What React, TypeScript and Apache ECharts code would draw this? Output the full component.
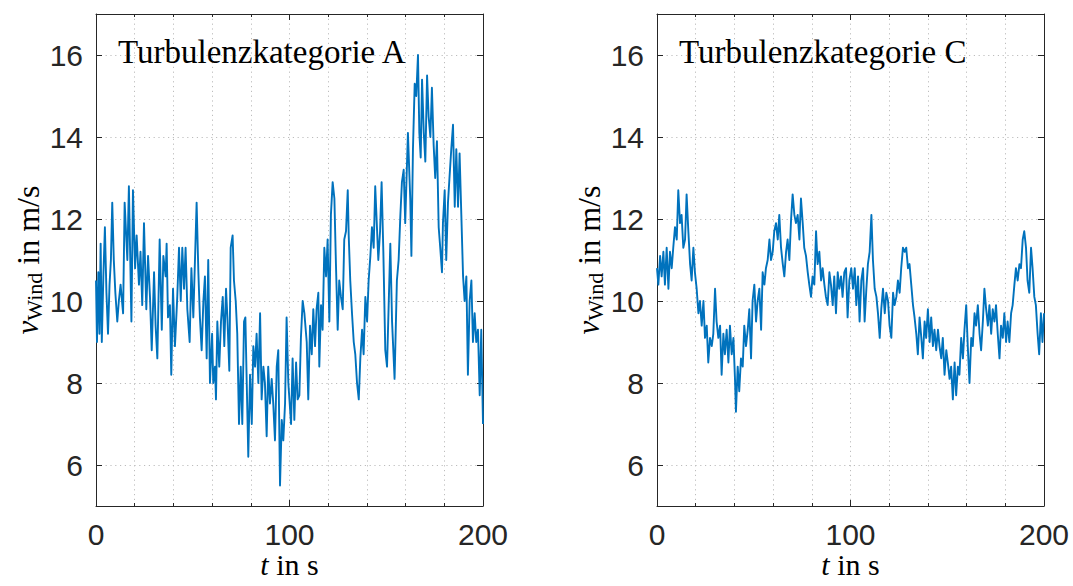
import React, { useEffect, useRef } from "react";
import * as echarts from "echarts";

// Turbulenzkategorie A: [t in s, v_Wind in m/s]
const samplesA: [number, number][] = [
  [0,10.5],[0.5,9.0],[1.2,10.7],[1.8,9.2],[2.4,11.4],[3.0,9.0],[3.8,10.6],[4.6,11.8],[5.4,10.2],[6.2,9.2],
  [7.0,10.4],[7.7,11.0],[8.4,12.4],[9.2,11.0],[10.0,10.2],[11.0,9.5],[11.8,10.0],[12.7,10.4],[14.0,9.7],[14.8,12.4],
  [16.2,11.0],[17.0,12.8],[18.3,9.5],[19.1,12.7],[20.2,10.8],[21.0,11.6],[22.2,10.4],[23.0,11.2],[23.9,9.9],[24.8,11.9],
  [26.0,9.8],[26.9,11.1],[27.9,10.1],[28.8,8.8],[30.0,10.7],[30.8,9.4],[31.7,8.6],[32.9,11.5],[34.0,9.3],[34.8,11.1],
  [36.0,10.6],[36.5,11.4],[37.2,9.6],[38.2,9.9],[38.9,8.2],[39.8,10.3],[40.8,8.9],[42.0,10.1],[42.9,11.3],[43.8,10.0],
  [44.6,11.3],[45.5,10.3],[46.3,11.3],[47.2,9.8],[48.4,9.0],[49.3,10.8],[50.3,9.6],[52.0,12.4],[52.9,10.7],[53.7,9.6],
  [54.6,8.8],[55.5,10.0],[56.3,10.6],[57.2,8.6],[58.0,11.0],[58.9,8.0],[60.0,9.2],[60.6,8.0],[61.5,8.4],[62.0,7.6],
  [62.7,9.5],[63.7,8.4],[64.6,9.5],[65.5,10.1],[66.3,8.9],[67.2,10.3],[67.9,9.6],[68.9,8.3],[69.6,11.3],[70.6,11.6],
  [71.3,10.5],[72.2,10.0],[73.0,9.2],[73.9,7.0],[74.8,8.4],[75.6,7.0],[76.5,9.5],[77.2,9.6],[77.9,8.0],[78.7,6.2],
  [79.6,8.2],[80.5,7.0],[81.3,8.9],[82.2,8.4],[83.0,9.2],[83.9,8.0],[84.8,9.7],[85.6,7.6],[86.5,8.4],[87.3,8.0],
  [88.2,6.7],[89.0,8.4],[89.9,7.5],[90.8,8.1],[91.6,7.5],[92.5,6.6],[93.4,8.4],[94.2,8.8],[95.1,5.5],[96.0,7.1],
  [96.8,6.6],[97.7,7.5],[98.5,9.6],[99.4,8.0],[100.8,7.0],[101.6,8.6],[102.5,7.1],[103.4,8.5],[104.2,7.6],[105.1,7.7],
  [105.9,9.1],[106.8,10.0],[107.7,9.7],[108.9,9.0],[109.7,7.6],[110.6,9.4],[111.5,8.7],[112.3,9.8],[113.2,8.9],[114.0,9.8],
  [114.9,10.2],[115.4,8.4],[116.3,9.9],[117.1,9.3],[118.0,11.3],[118.9,10.6],[119.7,11.5],[120.6,9.5],[121.4,12.1],[122.3,12.9],
  [123.2,12.5],[124.0,10.9],[124.9,9.3],[125.7,10.5],[126.6,10.1],[127.5,9.8],[128.3,11.5],[129.2,11.7],[130.1,12.7],[130.6,11.6],
  [131.4,10.5],[132.3,9.7],[133.2,9.0],[134.0,8.7],[134.9,8.0],[135.8,7.6],[136.6,8.6],[137.5,9.3],[138.3,8.7],[139.2,10.1],
  [140.1,9.5],[140.9,10.5],[141.8,11.1],[142.6,11.8],[143.5,11.3],[144.3,12.8],[145.1,11.9],[145.9,11.0],[146.8,11.7],[147.6,12.9],
  [148.5,11.2],[149.5,8.8],[150.4,8.4],[152.1,11.4],[153.0,9.5],[154.3,8.1],[155.5,10.5],[156.4,11.0],[157.3,12.1],[158.1,12.9],
  [159.0,13.2],[159.8,11.9],[161.2,14.1],[162.4,12.5],[163.0,11.1],[163.8,13.7],[164.7,15.3],[165.5,15.0],[166.4,16.0],[167.1,14.1],
  [167.8,13.5],[168.5,15.4],[169.4,14.1],[170.2,13.4],[171.1,15.5],[171.9,14.5],[172.8,14.0],[173.6,15.2],[174.5,13.8],[175.3,13.0],
  [176.2,13.9],[177.1,11.8],[177.9,11.3],[178.8,10.7],[179.3,11.9],[180.2,12.7],[181.0,11.0],[181.9,12.4],[182.8,13.1],[183.6,13.7],
  [184.5,14.3],[185.4,12.3],[186.2,13.7],[187.1,12.3],[187.9,13.6],[188.8,12.1],[189.7,10.6],[190.5,10.0],[191.4,10.6],[192.2,8.2],
  [193.1,10.0],[194.0,10.5],[194.8,9.0],[195.7,9.7],[196.5,9.0],[197.4,9.3],[198.3,7.7],[199.1,9.3],[200.0,7.0],
];

// Turbulenzkategorie C: [t in s, v_Wind in m/s]
const samplesC: [number, number][] = [
  [0,10.8],[0.7,10.4],[1.6,11.1],[2.4,10.6],[3.3,11.2],[4.1,10.4],[5.0,11.3],[5.9,10.3],[6.7,11.2],[7.6,10.8],
  [8.4,11.3],[9.3,11.8],[10.2,11.5],[11.0,12.7],[11.9,11.9],[12.7,12.1],[13.6,11.3],[14.5,11.5],[15.3,12.6],[16.2,11.7],
  [17.1,10.9],[17.9,10.5],[18.8,11.3],[19.6,10.7],[20.5,10.3],[21.4,9.7],[22.2,10.0],[23.1,9.4],[24.0,10.0],[24.8,9.1],
  [25.7,9.4],[26.5,8.5],[27.4,9.1],[28.3,8.9],[29.1,9.2],[30.0,10.3],[30.8,9.5],[31.7,9.1],[32.6,9.4],[33.4,8.2],
  [34.3,9.2],[35.1,8.7],[36.0,9.3],[36.9,8.5],[37.7,9.4],[38.6,8.7],[39.5,9.1],[40.3,8.1],[40.8,7.3],[41.7,8.4],
  [42.5,7.8],[43.4,8.6],[44.3,8.4],[45.1,9.4],[46.0,8.9],[46.9,9.3],[47.7,9.8],[48.6,8.6],[49.4,10.0],[50.3,10.4],
  [51.2,9.5],[52.0,10.0],[52.9,10.3],[53.8,9.3],[54.6,10.7],[55.5,10.4],[56.3,10.8],[57.2,11.0],[58.1,11.5],[58.9,11.0],
  [59.8,11.2],[60.6,11.7],[61.5,11.9],[62.4,11.5],[63.2,12.1],[64.1,11.3],[65.0,10.9],[65.8,10.6],[66.7,11.2],[67.5,11.5],
  [68.4,11.0],[69.3,12.0],[70.1,12.6],[71.0,12.1],[71.8,11.9],[72.7,12.1],[73.6,11.5],[74.4,12.5],[75.3,11.9],[76.1,11.3],
  [77.0,11.1],[77.9,10.7],[78.7,10.4],[79.6,10.1],[80.4,10.6],[81.3,10.4],[82.2,11.7],[83.0,10.9],[83.9,11.2],[84.8,10.5],
  [85.6,10.8],[86.5,10.4],[87.3,10.1],[88.2,9.9],[89.1,10.7],[89.9,10.4],[90.8,9.9],[91.6,10.6],[92.5,9.7],[93.4,10.7],
  [94.2,10.3],[95.1,10.6],[95.9,10.1],[96.8,10.7],[97.7,10.8],[98.5,9.6],[99.4,10.5],[100.4,10.8],[101.3,10.3],[102.2,10.8],
  [103.0,9.9],[103.9,10.6],[104.7,9.5],[105.6,10.5],[106.5,10.8],[107.3,9.5],[108.2,10.3],[109.0,10.9],[109.9,11.2],[110.8,12.1],
  [111.6,11.0],[112.5,10.3],[113.4,10.1],[114.2,9.7],[115.1,9.1],[115.9,9.8],[116.8,10.3],[117.7,9.7],[118.5,10.2],[119.4,10.0],
  [120.2,9.4],[121.1,9.1],[122.0,10.2],[122.8,9.9],[123.7,10.1],[124.5,10.5],[125.4,10.2],[126.2,10.8],[127.1,11.3],[128.0,11.2],
  [128.8,11.3],[129.7,10.8],[130.5,10.9],[131.4,10.4],[132.3,9.9],[133.1,9.6],[134.0,9.2],[134.8,8.7],[135.7,9.6],[136.6,9.1],
  [137.4,8.6],[138.3,9.5],[139.1,9.1],[140.0,9.8],[140.9,9.0],[141.7,9.6],[142.6,8.9],[143.4,9.3],[144.3,8.8],[145.2,9.3],
  [146.0,8.9],[146.9,8.6],[147.7,9.1],[148.6,8.2],[149.5,8.8],[150.3,8.5],[151.2,8.1],[152.0,8.4],[152.9,7.6],[153.8,8.5],
  [154.6,7.7],[155.5,8.4],[156.3,8.2],[157.2,9.1],[158.1,8.6],[158.9,9.3],[159.8,9.9],[160.6,8.9],[161.5,8.0],[162.4,9.1],
  [163.2,8.9],[164.1,9.7],[164.9,9.4],[165.8,9.9],[166.7,9.2],[167.5,8.8],[168.4,9.5],[169.2,10.3],[170.1,9.8],[171.0,9.4],
  [171.8,9.9],[172.7,9.2],[173.5,9.8],[174.4,9.5],[175.2,9.9],[176.1,9.2],[177.0,8.6],[177.8,9.4],[178.7,9.1],[179.5,9.7],
  [180.4,9.0],[181.2,9.5],[182.1,9.0],[183.0,9.7],[183.8,9.9],[184.7,10.4],[185.5,10.8],[186.4,10.5],[187.3,10.9],[188.1,10.8],
  [189.0,11.5],[189.8,11.7],[190.7,11.3],[191.5,10.5],[192.4,10.2],[193.3,11.3],[194.1,10.8],[195.0,10.1],[195.8,9.9],[196.7,9.2],
  [197.5,8.7],[198.4,9.7],[199.2,9.0],[200.0,9.7],
];

const panelTitles = ["Turbulenzkategorie A", "Turbulenzkategorie C"];
const xTickLabels = [0, 100, 200];
const yTickLabels = [6, 8, 10, 12, 14, 16];
const X_MIN = 0, X_MAX = 200;
const Y_MIN = 5, Y_MAX = 17;

const AX = "#262626";
const GRIDC = "#bdbdbd";
const LINE = "#0072BD";
const SERIF = "'Liberation Serif', 'Times New Roman', serif";
const SANS = "'Liberation Sans', Arial, Helvetica, sans-serif";

const grids = [
  { left: 96, top: 14, width: 387, height: 492 },
  { left: 657, top: 14, width: 387, height: 492 },
];

function buildOption() {
  const xAxis: any[] = [];
  const yAxis: any[] = [];
  const dotted = { color: GRIDC, width: 1, type: [1.2, 3.6] };
  grids.forEach((_, gi) => {
    xAxis.push({
      type: "value", gridIndex: gi, position: "bottom", min: X_MIN, max: X_MAX, interval: 100,
      axisLine: { show: true, onZero: false, lineStyle: { color: AX, width: 1 } },
      axisTick: { show: true, inside: true, length: 6, lineStyle: { color: AX } },
      minorTick: { show: true, splitNumber: 5, length: 3, lineStyle: { color: AX } },
      axisLabel: { show: true, margin: 16, color: AX, fontFamily: SANS, fontSize: 30, lineHeight: 24, customValues: xTickLabels },
      splitLine: { show: true, lineStyle: dotted },
      minorSplitLine: { show: true, lineStyle: dotted },
      name: "{t|t}{n| in s}", nameLocation: "middle", nameGap: 43, nameMoveOverlap: false,
      nameTextStyle: {
        color: "#000", fontFamily: SERIF, fontSize: 30, lineHeight: 30,
        rich: {
          t: { fontFamily: SERIF, fontSize: 30, fontStyle: "italic", color: "#000", lineHeight: 30 },
          n: { fontFamily: SERIF, fontSize: 30, color: "#000", lineHeight: 30 },
        },
      },
    });
    xAxis.push({
      type: "value", gridIndex: gi, position: "top", min: X_MIN, max: X_MAX, interval: 100,
      axisLine: { show: true, onZero: false, lineStyle: { color: AX, width: 1 } },
      axisTick: { show: true, inside: true, length: 6, lineStyle: { color: AX } },
      minorTick: { show: true, splitNumber: 5, length: 3, lineStyle: { color: AX } },
      axisLabel: { show: false },
      splitLine: { show: false },
    });
    yAxis.push({
      type: "value", gridIndex: gi, position: "left", min: Y_MIN, max: Y_MAX, interval: 1,
      axisLine: { show: true, onZero: false, lineStyle: { color: AX, width: 1 } },
      axisTick: { show: true, inside: true, length: 6, lineStyle: { color: AX }, customValues: yTickLabels },
      axisLabel: { show: true, margin: 13, color: AX, fontFamily: SANS, fontSize: 30, customValues: yTickLabels },
      splitLine: { show: true, lineStyle: dotted },
      name: "{v|v}{s|Wind}{n| in m/s}", nameLocation: "middle", nameGap: 46, nameRotate: 90,
      nameTextStyle: {
        color: "#000", fontFamily: SERIF, fontSize: 32,
        rich: {
          v: { fontFamily: SERIF, fontSize: 31, fontStyle: "italic", color: "#000", lineHeight: 36, verticalAlign: "middle" },
          s: { fontFamily: SERIF, fontSize: 22, color: "#000", lineHeight: 22, verticalAlign: "bottom" },
          n: { fontFamily: SERIF, fontSize: 32, color: "#000", lineHeight: 36, verticalAlign: "middle" },
        },
      },
    });
    yAxis.push({
      type: "value", gridIndex: gi, position: "right", min: Y_MIN, max: Y_MAX, interval: 1,
      axisLine: { show: true, onZero: false, lineStyle: { color: AX, width: 1 } },
      axisTick: { show: true, inside: true, length: 6, lineStyle: { color: AX }, customValues: yTickLabels },
      axisLabel: { show: false },
      splitLine: { show: false },
    });
  });

  const mkSeries = (data: [number, number][], gi: number) => ({
    type: "line",
    xAxisIndex: gi * 2,
    yAxisIndex: gi * 2,
    data,
    showSymbol: false,
    symbol: "none",
    clip: true,
    lineStyle: { color: LINE, width: 1.9, join: "round" },
  });

  return {
    animation: false,
    backgroundColor: "#ffffff",
    grid: grids.map((g) => ({ ...g, containLabel: false, outerBoundsMode: "none" })),
    xAxis,
    yAxis,
    series: [mkSeries(samplesA, 0), mkSeries(samplesC, 1)],
    graphic: panelTitles.map((title, i) => ({
      type: "text",
      x: grids[i].left + 22,
      y: 52,
      z: 100,
      style: {
        text: title,
        fontFamily: SERIF,
        fontSize: 33,
        fill: "#000",
        verticalAlign: "middle",
        align: "left",
      },
    })),
  };
}

export default function App() {
  const ref = useRef<HTMLDivElement>(null);
  useEffect(() => {
    if (!ref.current) return;
    const chart = echarts.init(ref.current, undefined, { renderer: "svg" });
    chart.setOption(buildOption() as any);
    return () => chart.dispose();
  }, []);
  return (
    <div
      ref={ref}
      style={{ position: "fixed", left: 0, top: 0, width: 1073, height: 586, background: "#fff" }}
    />
  );
}
